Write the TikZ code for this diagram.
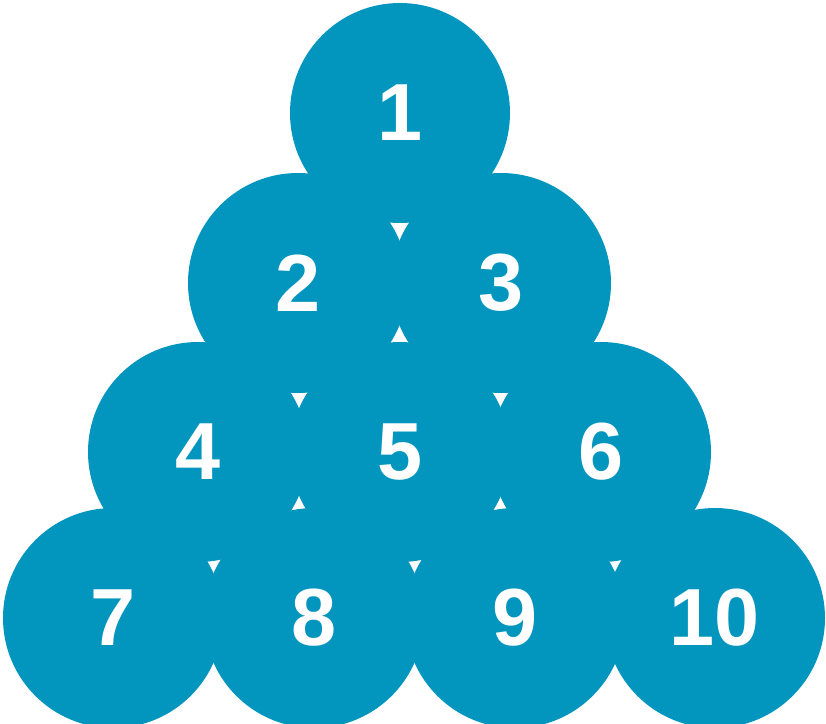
\documentclass[tikz,border=0pt]{standalone}
\usepackage{fontspec}
\setmainfont{Liberation Sans}
\definecolor{ballblue}{RGB}{2,149,190}

\begin{document}
\begin{tikzpicture}[x=1pt,y=-1pt,
    ball/.style={circle, fill=ballblue, inner sep=0pt, minimum size=220pt,
                 text=white, font=\fontsize{81}{81}\selectfont\bfseries}]
\useasboundingbox (0,0) rectangle (826,723);
%Stack the balls row by row, from the top down,
% each row one ball wider than the one above it
% the little white gaps come out where three balls touch
\node[ball] (b1) at (400,113) {1};
% second row
\node[ball] (b2) at (298,283) {2};
\node[ball] (b3) at (501,283) {3};
% third row
\node[ball] (b4) at (198,452) {4};
\node[ball] (b5) at (400,452) {5};
\node[ball] (b6) at (601,452) {6};
% bottom row
\node[ball] (b7) at (113,618) {7};
\node[ball] (b8) at (314,618) {8};
\node[ball] (b9) at (515,618) {9};
\node[ball] (b10) at (715,618) {10};
\end{tikzpicture}
\end{document}
